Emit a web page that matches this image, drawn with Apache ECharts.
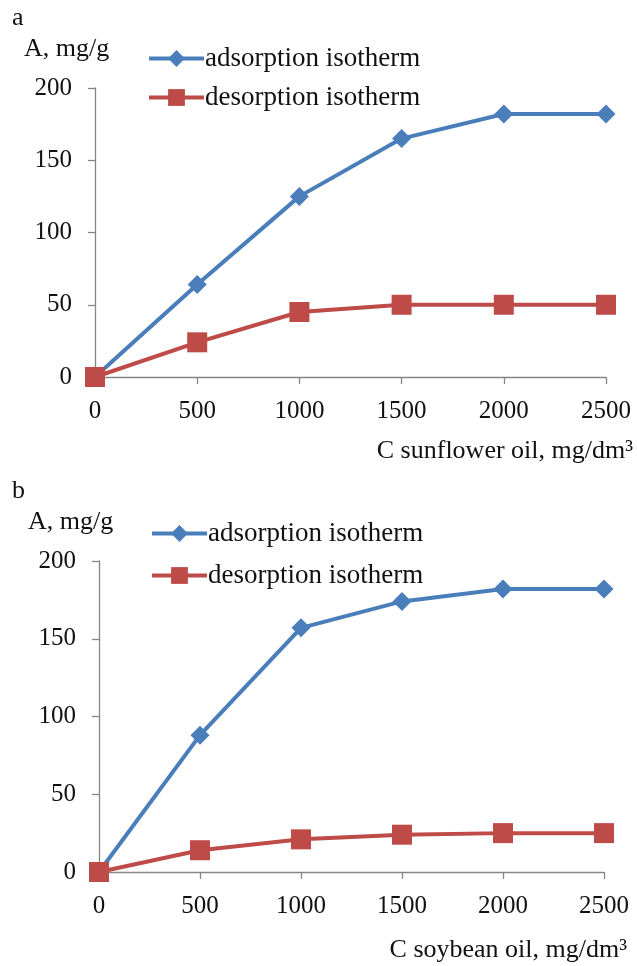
<!DOCTYPE html>
<html><head><meta charset="utf-8">
<script src="https://cdn.jsdelivr.net/npm/echarts@6/dist/echarts.min.js"></script>
<style>html,body{margin:0;padding:0;background:#fff}#c{width:637px;height:966px}</style>
</head><body><div id="c"></div>
<script>
const xCats = [0, 500, 1000, 1500, 2000, 2500];
const xTicks = [0, 500, 1000, 1500, 2000, 2500];
const yTicks = [0, 50, 100, 150, 200];
const sunflowerAdsorption = [0, 64, 125, 165, 182, 182];
const sunflowerDesorption = [0, 24, 45, 50, 50, 50];
const soybeanAdsorption = [0, 88, 157, 174, 182, 182];
const soybeanDesorption = [0, 14, 21, 24, 25, 25];
const panelLetters = ['a', 'b'];
const xTitles = ['C sunflower oil, mg/dm³', 'C soybean oil, mg/dm³'];
const yTitle = 'A, mg/g';
const seriesNames = ['adsorption isotherm', 'desorption isotherm'];

const FONT = '"Liberation Serif", "Times New Roman", serif';
const TXT = '#111';
const AX = '#868686';
const BLUE = '#4a7ebb';
const RED = '#be4b48';

const grids = [
  {left: 95, top: 88, width: 511, height: 289},
  {left: 99, top: 561, width: 505, height: 311}
];
function xAxis(i) {
  return {
    type: 'value', gridIndex: i, min: 0, max: 2500, interval: 500,
    axisLine: {lineStyle: {color: AX, width: 1.3}},
    axisTick: {show: true, length: 7, lineStyle: {color: AX, width: 1.3}},
    splitLine: {show: false},
    axisLabel: {color: TXT, fontFamily: FONT, fontSize: 25, margin: 22, formatter: v => String(v)}
  };
}
function yAxis(i) {
  return {
    type: 'value', gridIndex: i, min: 0, max: 200, interval: 50,
    axisLine: {show: true, lineStyle: {color: AX, width: 1.3}},
    axisTick: {show: true, length: 7, lineStyle: {color: AX, width: 1.3}},
    splitLine: {show: false},
    axisLabel: {color: TXT, fontFamily: FONT, fontSize: 25, margin: 23, formatter: v => String(v)}
  };
}
function pairs(vals) { return xCats.map((x, k) => [x, vals[k]]); }
function ads(i, vals) {
  return {name: seriesNames[0], type: 'line', xAxisIndex: i, yAxisIndex: i, data: pairs(vals),
    symbol: 'diamond', symbolSize: 19, lineStyle: {color: BLUE, width: 4}, itemStyle: {color: BLUE}, z: 2};
}
function des(i, vals) {
  return {name: seriesNames[1], type: 'line', xAxisIndex: i, yAxisIndex: i, data: pairs(vals),
    symbol: 'rect', symbolSize: 20, lineStyle: {color: RED, width: 4}, itemStyle: {color: RED}, z: 3};
}
function legend(name, left, top) {
  return {data: [name], left: left, top: top, itemWidth: 55, itemHeight: 21, itemGap: 6, selectedMode: false,
    lineStyle: {width: 4},
    textStyle: {color: TXT, fontFamily: FONT, fontSize: 27, padding: [0, 0, 0, -4]}};
}
function txt(x, y, s, align) {
  return {type: 'text', left: align === 'right' ? undefined : x, right: align === 'right' ? x : undefined, top: y,
    style: {text: s, fill: TXT, font: '26px ' + FONT}};
}

const chart = echarts.init(document.getElementById('c'), null, {renderer: 'canvas'});
chart.setOption({
  backgroundColor: '#fff',
  animation: false,
  grid: grids,
  xAxis: [xAxis(0), xAxis(1)],
  yAxis: [yAxis(0), yAxis(1)],
  legend: [
    legend(seriesNames[0], 142, 40),
    legend(seriesNames[1], 142, 79),
    legend(seriesNames[0], 145, 515),
    legend(seriesNames[1], 145, 557)
  ],
  series: [
    ads(0, sunflowerAdsorption), des(0, sunflowerDesorption),
    ads(1, soybeanAdsorption), des(1, soybeanDesorption)
  ],
  graphic: [
    txt(12, 5, panelLetters[0]),
    txt(24, 36, yTitle),
    txt(4, 438, xTitles[0], 'right'),
    txt(12, 478, panelLetters[1]),
    txt(28, 509, yTitle),
    txt(10, 937, xTitles[1], 'right')
  ]
});
</script></body></html>
